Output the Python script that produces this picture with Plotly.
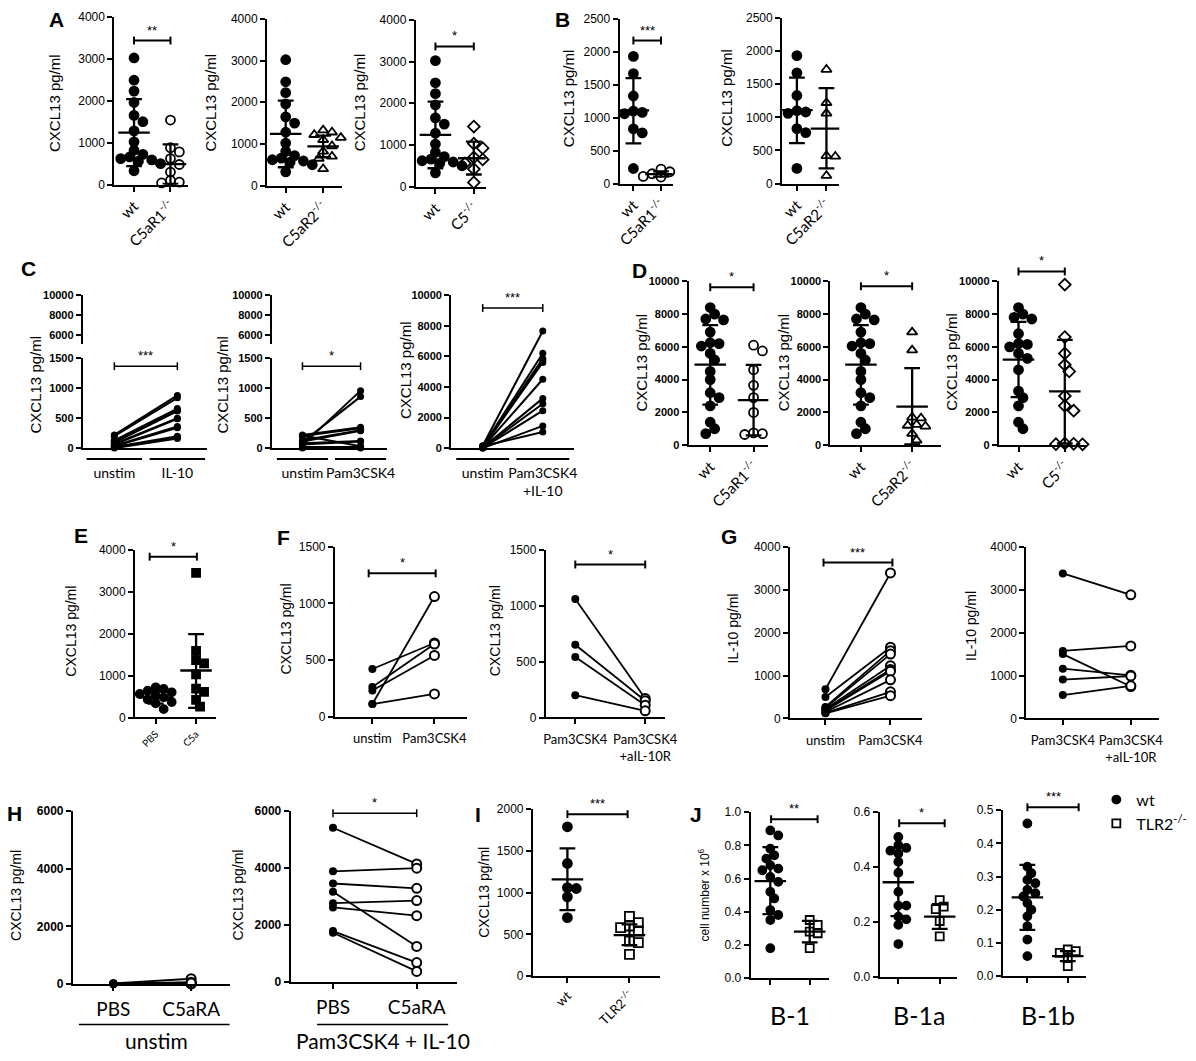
import plotly.graph_objects as go

W, H = 1196, 1061
SANS = "Liberation Sans, Arial, sans-serif"
HUM = "Lato, Open Sans, sans-serif"

# ---------------- data ----------------
# A: CXCL13 pg/ml, wt vs knockouts
a_wt = [3020, 2490, 2230, 1960, 1650, 1500, 1280, 1020, 820, 720, 660, 620, 590, 560, 530, 500, 330]
a_wt_stats = [1240, 2040, 440]          # mean, upper SD, lower SD
a_c5ar1 = [1540, 880, 780, 620, 480, 300, 100, 60, 40]
a_c5ar1_stats = [490, 960, 20]
a_c5ar2 = [1330, 1280, 1220, 1150, 1100, 950, 820, 700, 650, 400]
a_c5ar2_stats = [940, 1200, 680]
a_c5 = [1440, 1030, 920, 700, 650, 560, 420, 100]
a_c5_stats = [680, 1080, 290]
# B
b_wt = [1930, 1670, 1330, 1100, 1080, 1060, 830, 770, 230]
b_wt_stats = [1110, 1600, 610]
b_c5ar1 = [220, 180, 150, 130, 110, 100]
b_c5ar1_stats = [145, 185, 105]
b_c5ar2 = [1720, 1220, 1060, 420, 410, 120]
b_c5ar2_stats = [830, 1440, 230]
# C: paired unstim vs stimulated
c1_unstim = [220, 200, 130, 110, 90, 70, 60, 40, 30, 20, 10, 0]
c1_il10 = [880, 840, 660, 630, 620, 500, 490, 360, 340, 200, 180, 160]
c2_unstim = [50, 100, 220, 200, 130, 110, 80, 60, 210, 20, 10, 0]
c2_pam = [960, 860, 350, 330, 300, 290, 120, 110, 30, 20, 10, 0]
c3_unstim = [150, 100, 80, 60, 50, 40, 30, 20, 10, 0, 120]
c3_pam_il10 = [7650, 6200, 5850, 5750, 5600, 4500, 3250, 2900, 2450, 1450, 1050]
# D
d_wt = [8400, 8000, 7700, 7650, 6900, 6250, 6200, 6050, 5600, 5200, 4500, 4000, 3200, 2900, 2400, 1400, 1000, 700]
d_wt_stats = [4920, 7330, 2470]
d_c5ar1 = [6100, 5750, 4600, 3650, 2900, 2000, 750, 700, 650, 350]
d_c5ar1_stats = [2750, 4900, 600]
d_c5ar2 = [6900, 5800, 1700, 1650, 1250, 1200, 1150, 700, 300]
d_c5ar2_stats = [2350, 4700, 50]
d3_wt = [8400, 8000, 7800, 7700, 6800, 6200, 6150, 6000, 5600, 5300, 4600, 3300, 2900, 2400, 1400, 1000]
d3_wt_stats = [5220, 7530, 2930]
d_c5 = [9800, 6600, 5600, 4900, 4500, 3000, 2400, 2100, 100, 80, 60, 50]
d_c5_stats = [3280, 6420, 100]
# E
e_pbs = [720, 680, 640, 600, 560, 520, 480, 430, 370, 340, 200]
e_pbs_stats = [480, 620, 330]
e_c5a = [3450, 1590, 1370, 1290, 1030, 690, 610, 420, 260]
e_c5a_stats = [1120, 1990, 230]
# F
f1_unstim = [420, 260, 230, 110, 110]
f1_pam = [650, 640, 540, 1060, 200]
f2_pam = [1060, 650, 540, 200]
f2_pam_ail10r = [170, 150, 110, 60]
# G
g1_unstim = [680, 500, 270, 250, 220, 200, 180, 150, 130, 120]
g1_pam = [3390, 1660, 1580, 1500, 1230, 1140, 1100, 900, 620, 530]
g2_pam = [3380, 1575, 1500, 1160, 906, 545]
g2_pam_ail10r = [2880, 1690, 745, 1006, 990, 760]
# H
h1_pbs = [20, 10, 0, 15, 5, 0, 10, 0]
h1_c5ara = [180, 60, 20, 0, 10, 40, 0, 30]
h2_pbs = [5420, 3890, 3460, 3170, 2770, 2620, 1790, 1730]
h2_c5ara = [4150, 4000, 3290, 1250, 2860, 2330, 680, 370]
# I
i_wt = [1790, 1350, 1060, 1050, 950, 700]
i_wt_stats = [1160, 1530, 790]
i_tlr2 = [715, 640, 600, 580, 540, 420, 400, 260]
i_tlr2_stats = [490, 620, 370]
# J: cell number x 10^6
j1_wt = [0.89, 0.86, 0.78, 0.74, 0.72, 0.68, 0.66, 0.65, 0.61, 0.58, 0.52, 0.48, 0.41, 0.38, 0.35, 0.18]
j1_wt_stats = [0.585, 0.79, 0.385]
j1_tlr2 = [0.35, 0.32, 0.28, 0.27, 0.18]
j1_tlr2_stats = [0.28, 0.345, 0.215]
j2_wt = [0.51, 0.48, 0.47, 0.46, 0.45, 0.42, 0.38, 0.31, 0.26, 0.26, 0.22, 0.21, 0.19, 0.12]
j2_wt_stats = [0.345, 0.47, 0.222]
j2_tlr2 = [0.28, 0.256, 0.247, 0.204, 0.148]
j2_tlr2_stats = [0.22, 0.265, 0.175]
j3_wt = [0.46, 0.33, 0.31, 0.29, 0.28, 0.26, 0.25, 0.24, 0.22, 0.20, 0.18, 0.15, 0.11, 0.06]
j3_wt_stats = [0.237, 0.335, 0.139]
j3_tlr2 = [0.08, 0.075, 0.07, 0.055, 0.03]
j3_tlr2_stats = [0.06, 0.075, 0.045]

KO = "<sup>-/-</sup>"

# ---------------- helpers ----------------
fig = go.Figure()
layout = {}
shapes = []
annotations = []


def xid(k):
    return "x" if k == 1 else f"x{k}"


def yid(k):
    return "y" if k == 1 else f"y{k}"


def xkey(k):
    return "xaxis" if k == 1 else f"xaxis{k}"


def ykey(k):
    return "yaxis" if k == 1 else f"yaxis{k}"


LINE = dict(showline=True, linecolor="black", linewidth=2, showgrid=False, zeroline=False)


def panel(k, ax, end, top, bot, c0, c1, yrange, ytick, yfs=12, bold=False, xt=None,
          xangle=0, xfs=15, xticks=True, ytf=None, standoff=None):
    u = c1 - c0
    xr = [-(c0 - ax) / u, 1 + (end - c1) / u]
    xa = dict(domain=[ax / W, end / W], range=xr, anchor=yid(k), tickvals=[0, 1],
              tickangle=xangle, ticks="outside" if xticks else "", ticklen=5, tickwidth=2,
              tickcolor="black", tickfont=dict(family=HUM, size=xfs, color="black"), **LINE)
    if xt:
        xa["ticktext"] = xt
    else:
        xa["showticklabels"] = False
    if standoff is not None:
        xa["ticklabelstandoff"] = standoff
    ya = dict(domain=[1 - bot / H, 1 - top / H], range=yrange, anchor=xid(k),
              tickvals=ytick, ticktext=[(f"{t:.1f}" if ytf else f"{t:g}") for t in ytick],
              ticks="outside", ticklen=5, tickwidth=2, tickcolor="black",
              tickfont=dict(family=SANS, size=yfs, color="black",
                            weight="bold" if bold else "normal"), **LINE)
    layout[xkey(k)] = xa
    layout[ykey(k)] = ya
    return dict(k=k, x=xid(k), y=yid(k), u=u, c0=c0, bot=bot, hpx=bot - top,
                lo=yrange[0], hi=yrange[1])


def swarm_offsets(vals, P, d):
    lo, hi, hpx = P["lo"], P["hi"], P["hpx"]
    ys = [(v - lo) / (hi - lo) * hpx for v in vals]
    order = sorted(range(len(vals)), key=lambda i: -vals[i])
    placed = []
    offs = [0.0] * len(vals)
    step = d * 0.45
    for i in order:
        y = ys[i]
        x = 0.0
        for j in range(120):
            mag = (j + 1) // 2
            sgn = 1 if j % 2 == 1 else -1
            x = mag * step * sgn
            if all((x - px) ** 2 + (y - py) ** 2 >= (0.8 * d) ** 2 for px, py in placed):
                break
        placed.append((x, y))
        offs[i] = x
    return offs


def dots(P, gi, vals, stats, symbol, size=9, legend=None, rank=None):
    offs = swarm_offsets(vals, P, size + 1)
    xs = [gi + o / P["u"] for o in offs]
    mk = dict(symbol=symbol, size=size, color="black", line=dict(color="black", width=1.8))
    tr = go.Scatter(x=xs, y=vals, mode="markers", marker=mk, xaxis=P["x"], yaxis=P["y"],
                    cliponaxis=False, showlegend=legend is not None, name=legend or "data",
                    hoverinfo="skip")
    if rank is not None:
        tr.legendrank = rank
    fig.add_trace(tr)
    if stats:
        m, up, lw = stats
        hw = 16 / P["u"]
        cw = 8 / P["u"]
        xs2 = [gi - hw, gi + hw, None, gi, gi, None, gi - cw, gi + cw, None, gi - cw, gi + cw]
        ys2 = [m, m, None, lw, up, None, up, up, None, lw, lw]
        fig.add_trace(go.Scatter(x=xs2, y=ys2, mode="lines", line=dict(color="black", width=2.3),
                                 xaxis=P["x"], yaxis=P["y"], cliponaxis=False,
                                 showlegend=False, hoverinfo="skip", name="mean±SD"))


def paired(P, left, right, size=8, right_open=True, lw=1.8):
    xs, ys = [], []
    for a, b in zip(left, right):
        xs += [0, 1, None]
        ys += [a, b, None]
    fig.add_trace(go.Scatter(x=xs, y=ys, mode="lines", line=dict(color="black", width=lw),
                             xaxis=P["x"], yaxis=P["y"], cliponaxis=False, showlegend=False,
                             hoverinfo="skip", name="pair"))
    fig.add_trace(go.Scatter(x=[0] * len(left), y=left, mode="markers",
                             marker=dict(symbol="circle", size=size, color="black"),
                             xaxis=P["x"], yaxis=P["y"], cliponaxis=False, showlegend=False,
                             hoverinfo="skip", name="before"))
    if right_open:
        mk = dict(symbol="circle", size=size + 1, color="white", line=dict(color="black", width=2))
    else:
        mk = dict(symbol="circle", size=size, color="black")
    fig.add_trace(go.Scatter(x=[1] * len(right), y=right, mode="markers", marker=mk,
                             xaxis=P["x"], yaxis=P["y"], cliponaxis=False, showlegend=False,
                             hoverinfo="skip", name="after"))


def to_paper(P, xv, yv):
    px = P["c0"] + xv * P["u"]
    py = P["bot"] - (yv - P["lo"]) / (P["hi"] - P["lo"]) * P["hpx"]
    return px / W, 1 - py / H


def bracket(P, yv, label, x0=0.0, x1=1.0, width=2, cap=4, fs=13):
    ax0, ay = to_paper(P, x0, yv)
    ax1, _ = to_paper(P, x1, yv)
    c = cap / H
    for (a, b, y0, y1) in [(ax0, ax1, ay, ay), (ax0, ax0, ay - c, ay + c), (ax1, ax1, ay - c, ay + c)]:
        shapes.append(dict(type="line", xref="paper", yref="paper", x0=a, x1=b, y0=y0, y1=y1,
                           line=dict(color="black", width=width)))
    annotations.append(dict(x=(ax0 + ax1) / 2, y=ay, xref="paper", yref="paper", text=label,
                            showarrow=False, xanchor="center", yanchor="bottom", yshift=1,
                            font=dict(family=SANS, size=fs, color="black")))


def text_px(x, y, s, size, bold=False, angle=0, family=SANS):
    annotations.append(dict(x=x / W, y=1 - y / H, xref="paper", yref="paper", text=s,
                            showarrow=False, textangle=angle, xanchor="center", yanchor="middle",
                            font=dict(family=family, size=size, color="black",
                                      weight="bold" if bold else "normal")))


# ---------------- panels ----------------
tA = [0, 1000, 2000, 3000, 4000]
A1 = panel(1, 111, 186, 10, 180, 131, 168, [0, 4000], tA, xt=["wt", "C5aR1" + KO], xangle=-45)
A2 = panel(2, 266, 342, 12, 181, 285, 323, [0, 4000], tA, xt=["wt", "C5aR2" + KO], xangle=-45)
A3 = panel(3, 417, 488, 13, 182, 437, 476, [0, 4000], tA, xt=["wt", "C5" + KO], xangle=-45)
tB = [0, 500, 1000, 1500, 2000, 2500]
B1 = panel(4, 624, 678, 12, 179, 638, 666, [0, 2500], tB, xt=["wt", "C5aR1" + KO], xangle=-45)
B2 = panel(5, 789, 847, 11, 179, 804, 834, [0, 2500], tB, xt=["wt", "C5aR2" + KO], xangle=-45)

tCl = [0, 500, 1000, 1500]
C1 = panel(6, 79, 205, 356, 447, 111, 175, [0, 1500], tCl, yfs=11, bold=True,
           xt=["unstim", "IL-10"], xfs=14, xticks=False, standoff=11)
C2 = panel(7, 271, 388, 356, 447, 302, 361, [0, 1500], tCl, yfs=11, bold=True,
           xt=["unstim", "Pam3CSK4"], xfs=14, xticks=False, standoff=11)
C3 = panel(8, 453, 578, 292, 447, 485, 546, [0, 10000], [0, 2000, 4000, 6000, 8000, 10000],
           yfs=11, bold=True, xt=["unstim", "Pam3CSK4<br>+IL-10"], xfs=14, xticks=False,
           standoff=11)
# upper (broken) segments for C1, C2
tCu = [6000, 8000, 10000]
for kk, P in [(30, C1), (31, C2)]:
    layout[ykey(kk)] = dict(domain=[1 - 341 / H, 1 - 292 / H], range=[5200, 10000],
                            anchor=P["x"], tickvals=tCu, ticktext=[str(t) for t in tCu],
                            ticks="outside", ticklen=5, tickwidth=2, tickcolor="black",
                            tickfont=dict(family=SANS, size=11, color="black", weight="bold"),
                            **LINE)
    fig.add_trace(go.Scatter(x=[None], y=[None], xaxis=P["x"], yaxis=yid(kk), showlegend=False,
                             hoverinfo="skip", name="axis"))

tD = [0, 2000, 4000, 6000, 8000, 10000]
D1 = panel(9, 694, 775, 278, 444, 716, 760, [0, 10000], tD, yfs=11, bold=True,
           xt=["wt", "C5aR1" + KO], xangle=-45)
D2 = panel(10, 838, 950, 278, 444, 869, 921, [0, 10000], tD, yfs=11, bold=True,
           xt=["wt", "C5aR2" + KO], xangle=-45)
D3 = panel(11, 1009, 1098, 278, 444, 1029, 1076, [0, 10000], tD, yfs=11, bold=True,
           xt=["wt", "C5" + KO], xangle=-45)

E = panel(12, 132, 214, 550, 720, 153, 194, [0, 4000], tA, xt=["PBS", "C5a"], xangle=-45, xfs=10)
tF = [0, 500, 1000, 1500]
F1 = panel(13, 335, 469, 547, 719, 373, 436, [0, 1500], tF, xt=["unstim", "Pam3CSK4"], xfs=13,
           standoff=4)
F2 = panel(14, 549, 670, 550, 720, 579, 650, [0, 1500], tF,
           xt=["Pam3CSK4", "Pam3CSK4<br>+aIL-10R"], xfs=13, standoff=4)
G1 = panel(15, 797, 931, 547, 721, 833, 899, [0, 4000], tA, xt=["unstim", "Pam3CSK4"], xfs=13,
           standoff=4)
G2 = panel(16, 1037, 1172, 547, 721, 1074, 1143, [0, 4000], tA,
           xt=["Pam3CSK4", "Pam3CSK4<br>+aIL-10R"], xfs=13, standoff=4)

tH = [0, 2000, 4000, 6000]
H1 = panel(17, 69, 228, 815, 990, 110, 189, [0, 6000], tH, bold=True, xt=["PBS", "C5aRA"], xfs=19,
           standoff=2)
H2 = panel(18, 290, 459, 815, 988, 333, 418, [0, 6000], tH, bold=True, xt=["PBS", "C5aRA"], xfs=19,
           standoff=2)
I = panel(19, 536, 665, 813, 982, 571, 634, [0, 2000], [0, 500, 1000, 1500, 2000],
          xt=["wt", "TLR2" + KO], xangle=-45, xfs=13)
J1 = panel(20, 757, 837, 816, 984, 777, 817, [0, 1.0], [0, 0.2, 0.4, 0.6, 0.8, 1.0], ytf=True)
J2 = panel(21, 888, 967, 816, 983, 907, 949, [0, 0.6], [0, 0.2, 0.4, 0.6], ytf=True)
J3 = panel(22, 1013, 1098, 814, 982, 1038, 1079, [0, 0.5], [0, 0.1, 0.2, 0.3, 0.4, 0.5], ytf=True)

# ---------------- marks ----------------
dots(A1, 0, a_wt, a_wt_stats, "circle")
dots(A1, 1, a_c5ar1, a_c5ar1_stats, "circle-open")
dots(A2, 0, a_wt, a_wt_stats, "circle")
dots(A2, 1, a_c5ar2, a_c5ar2_stats, "triangle-up-open")
dots(A3, 0, a_wt, a_wt_stats, "circle")
dots(A3, 1, a_c5, a_c5_stats, "diamond-open")
dots(B1, 0, b_wt, b_wt_stats, "circle")
dots(B1, 1, b_c5ar1, b_c5ar1_stats, "circle-open")
dots(B2, 0, b_wt, b_wt_stats, "circle")
dots(B2, 1, b_c5ar2, b_c5ar2_stats, "triangle-up-open")

paired(C1, c1_unstim, c1_il10, size=7, right_open=False, lw=2)
paired(C2, c2_unstim, c2_pam, size=7, right_open=False, lw=2)
paired(C3, c3_unstim, c3_pam_il10, size=7, right_open=False, lw=2)

dots(D1, 0, d_wt, d_wt_stats, "circle")
dots(D1, 1, d_c5ar1, d_c5ar1_stats, "circle-open")
dots(D2, 0, d_wt, d_wt_stats, "circle")
dots(D2, 1, d_c5ar2, d_c5ar2_stats, "triangle-up-open")
dots(D3, 0, d3_wt, d3_wt_stats, "circle")
dots(D3, 1, d_c5, d_c5_stats, "diamond-open")

dots(E, 0, e_pbs, e_pbs_stats, "circle", size=8)
dots(E, 1, e_c5a, e_c5a_stats, "square", size=8)

paired(F1, f1_unstim, f1_pam)
paired(F2, f2_pam, f2_pam_ail10r)
paired(G1, g1_unstim, g1_pam)
paired(G2, g2_pam, g2_pam_ail10r)
paired(H1, h1_pbs, h1_c5ara)
paired(H2, h2_pbs, h2_c5ara)

dots(I, 0, i_wt, i_wt_stats, "circle")
dots(I, 1, i_tlr2, i_tlr2_stats, "square-open")
dots(J1, 0, j1_wt, j1_wt_stats, "circle", size=8, legend="wt", rank=1)
dots(J1, 1, j1_tlr2, j1_tlr2_stats, "square-open", size=8, legend="TLR2" + KO, rank=2)
dots(J2, 0, j2_wt, j2_wt_stats, "circle", size=8)
dots(J2, 1, j2_tlr2, j2_tlr2_stats, "square-open", size=8)
dots(J3, 0, j3_wt, j3_wt_stats, "circle", size=8)
dots(J3, 1, j3_tlr2, j3_tlr2_stats, "square-open", size=8)

# ---------------- significance brackets ----------------
bracket(A1, 3435, "**")
bracket(A3, 3361, "*")
bracket(B1, 2171, "***")
bracket(C1, 1368, "***", width=1.5)
bracket(C2, 1368, "*", width=1.5)
bracket(C3, 9161, "***", width=1.5)
bracket(D1, 9639, "*")
bracket(D2, 9699, "*")
bracket(D3, 10602, "*")
bracket(E, 3835, "*", x0=-0.15, x1=1.02)
bracket(F1, 1265, "*", x0=-0.06, x1=1.02)
bracket(F2, 1368, "*", x0=0.0, x1=1.0)
bracket(G1, 3632, "***", x0=-0.03, x1=1.03)
bracket(H2, 5931, "*", width=1.5)
bracket(I, 1941, "***", x1=0.97)
bracket(J1, 0.958, "**", x0=0.02, x1=1.2)
bracket(J2, 0.560, "*", x0=0.02, x1=1.12)
bracket(J3, 0.509, "***", x0=0.0, x1=1.27)

# ---------------- category underlines / group labels ----------------
for P in (C1, C2, C3):
    for a, b in [(-0.44, 0.44), (0.56, 1.44)]:
        shapes.append(dict(type="line", xref=P["x"], yref="paper", x0=a, x1=b,
                           y0=1 - 458 / H, y1=1 - 458 / H, line=dict(color="black", width=2)))
for P, a, b, lab in [(H1, -0.443, 1.544, "unstim"), (H2, -0.19, 1.376, "Pam3CSK4 + IL-10")]:
    shapes.append(dict(type="line", xref=P["x"], yref="paper", x0=a, x1=b,
                       y0=1 - 1031 / H, y1=1 - 1031 / H, line=dict(color="black", width=1.5)))
    annotations.append(dict(x=(a + b) / 2, y=1 - 1047 / H, xref=P["x"], yref="paper", text=lab,
                            showarrow=False, xanchor="center", yanchor="middle",
                            font=dict(family=HUM, size=21, color="black")))
for P, lab in [(J1, "B-1"), (J2, "B-1a"), (J3, "B-1b")]:
    annotations.append(dict(x=0.5, y=1 - 1021 / H, xref=P["x"], yref="paper", text=lab,
                            showarrow=False, xanchor="center", yanchor="middle",
                            font=dict(family=HUM, size=25, color="black")))

# ---------------- axis titles ----------------
YT = "CXCL13 pg/ml"
for x, y in [(50, 97), (209, 97), (360, 97), (572, 92), (733, 92),
             (31, 383), (221, 383), (406, 368), (646, 360), (790, 360), (961, 360)]:
    text_px(x, y, YT, 15, angle=-90)
for x, y in [(67, 632), (285, 630), (497, 632), (11, 900), (237, 900), (486, 897)]:
    text_px(x, y, YT, 14, angle=-90)
for x, y in [(739, 630), (980, 627)]:
    text_px(x, y, "IL-10 pg/ml", 14, angle=-90)
text_px(710, 900, "cell number x 10<sup>6</sup>", 12, angle=-90)

# ---------------- panel letters ----------------
for s, x, y in [("A", 52, 13), ("B", 566, 13), ("C", 24, 265), ("D", 644, 267), ("E", 77, 536),
                ("F", 283, 538), ("G", 735, 537), ("H", 10, 817), ("I", 480, 818), ("J", 702, 818)]:
    text_px(x, y, s, 21, bold=True)

layout.update(dict(
    width=W, height=H, margin=dict(l=0, r=0, t=0, b=0),
    paper_bgcolor="white", plot_bgcolor="white",
    shapes=shapes, annotations=annotations,
    showlegend=True,
    legend=dict(x=1108 / W, y=1 - 786 / H, xanchor="left", yanchor="top",
                font=dict(family=HUM, size=16, color="black"), itemwidth=30,
                tracegroupgap=0, bgcolor="rgba(0,0,0,0)"),
    font=dict(family=SANS, color="black"),
))
fig.update_layout(**layout)
fig.write_html("out.html", config={"displayModeBar": False},
               post_script="document.body.style.margin='0px';"
                           "document.body.style.overflow='hidden';")
